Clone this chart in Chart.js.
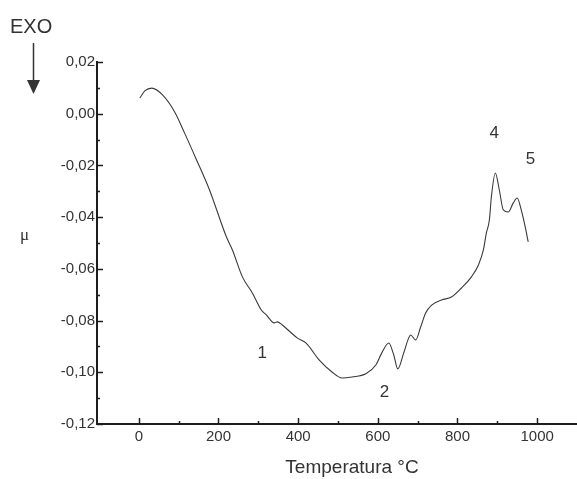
<!DOCTYPE html>
<html>
<head>
<meta charset="utf-8">
<script src="https://cdn.jsdelivr.net/npm/chart.js@4.4.0/dist/chart.umd.min.js"></script>
<style>
  html, body { margin: 0; padding: 0; background: #ffffff; }
  #wrap { position: relative; width: 577px; height: 479px; }
</style>
</head>
<body>
<div id="wrap"><canvas id="c" width="577" height="479"></canvas></div>
<script>
// Temperature (°C) and DTA signal
const temps = [2.5, 15, 32.5, 60, 90, 115, 145, 177.5, 220, 235, 260, 285, 307.5, 320, 340, 347.5, 360, 397.5, 420, 452.5, 485, 510, 535, 570, 595, 610, 627.5, 640, 650, 665, 677.5, 682.5, 695, 707.5, 720, 735, 760, 785, 810, 835, 852.5, 865, 872.5, 880, 885, 895, 905, 915, 927.5, 940, 950, 960, 970, 977.5];
const dta = [0.0061, 0.0088, 0.0099, 0.0072, 0.0007, -0.0075, -0.0179, -0.0295, -0.0477, -0.0527, -0.0631, -0.0693, -0.0759, -0.0778, -0.0809, -0.0805, -0.0817, -0.0867, -0.0887, -0.0952, -0.0999, -0.1022, -0.1018, -0.1006, -0.0972, -0.0925, -0.0887, -0.0933, -0.0987, -0.0925, -0.0867, -0.0856, -0.0875, -0.0825, -0.0771, -0.074, -0.072, -0.0709, -0.0674, -0.0631, -0.0585, -0.0527, -0.0461, -0.0411, -0.0322, -0.0229, -0.0295, -0.0372, -0.038, -0.0345, -0.0326, -0.0372, -0.0438, -0.0496];

// Axis ticks
const xTicks = [0, 200, 400, 600, 800, 1000];
const xMinorTicks = [100, 300, 500, 700, 900];
const yTicks = [0.02, 0.00, -0.02, -0.04, -0.06, -0.08, -0.10, -0.12];
const yTickLabels = ["0,02", "0,00", "-0,02", "-0,04", "-0,06", "-0,08", "-0,10", "-0,12"];
const yMinorTicks = [0.01, -0.01, -0.03, -0.05, -0.07, -0.09, -0.11];

// Peak labels: [temperature, value, text]
const peakLabels = [[310, -0.0925, "1"], [617, -0.1076, "2"], [892, -0.0075, "4"], [983, -0.0175, "5"]];

const textColor = '#333333';
const axisColor = '#1e1e1e';

const decorations = {
  id: 'decorations',
  afterDraw(chart) {
    const ctx = chart.ctx;
    const xs = chart.scales.x, ys = chart.scales.y;
    const x0 = xs.left, yb = ys.bottom;
    ctx.save();
    ctx.strokeStyle = axisColor;
    ctx.lineWidth = 1.5;
    // y ticks (inward, to the right)
    yTicks.forEach(v => {
      const py = Math.round(ys.getPixelForValue(v)) + 0.5;
      ctx.beginPath(); ctx.moveTo(x0, py); ctx.lineTo(x0 + 6, py); ctx.stroke();
    });
    yMinorTicks.forEach(v => {
      const py = Math.round(ys.getPixelForValue(v)) + 0.5;
      ctx.beginPath(); ctx.moveTo(x0, py); ctx.lineTo(x0 + 3, py); ctx.stroke();
    });
    // x ticks (inward, upward)
    xTicks.forEach(v => {
      const px = Math.round(xs.getPixelForValue(v)) + 0.5;
      ctx.beginPath(); ctx.moveTo(px, yb); ctx.lineTo(px, yb - 6); ctx.stroke();
    });
    xMinorTicks.forEach(v => {
      const px = Math.round(xs.getPixelForValue(v)) + 0.5;
      ctx.beginPath(); ctx.moveTo(px, yb); ctx.lineTo(px, yb - 3); ctx.stroke();
    });

    ctx.fillStyle = textColor;
    // EXO + arrow
    ctx.font = '20px "Liberation Sans", Arial, sans-serif';
    ctx.textAlign = 'left'; ctx.textBaseline = 'alphabetic';
    ctx.fillText('EXO', 10, 33);
    ctx.strokeStyle = textColor; ctx.lineWidth = 1.5;
    ctx.beginPath(); ctx.moveTo(33.5, 43); ctx.lineTo(33.5, 82); ctx.stroke();
    ctx.beginPath(); ctx.moveTo(27, 80); ctx.lineTo(40, 80); ctx.lineTo(33.5, 94); ctx.closePath(); ctx.fill();

    // mu
    ctx.font = '17px "Liberation Serif", "DejaVu Serif", serif';
    ctx.fillText('\u03bc', 20, 240);

    // peak labels
    ctx.font = '17px "Liberation Sans", Arial, sans-serif';
    ctx.textAlign = 'center'; ctx.textBaseline = 'middle';
    peakLabels.forEach(([t, v, s]) => {
      ctx.fillText(s, xs.getPixelForValue(t), ys.getPixelForValue(v));
    });

    // x-axis title
    ctx.font = '19px "Liberation Sans", Arial, sans-serif';
    ctx.textAlign = 'center'; ctx.textBaseline = 'middle';
    ctx.fillText('Temperatura \u00b0C', 352, 468);
    ctx.restore();
  }
};

new Chart(document.getElementById('c'), {
  type: 'line',
  data: {
    datasets: [{
      data: temps.map((t, i) => ({ x: t, y: dta[i] })),
      borderColor: '#3a3a3a',
      borderWidth: 1.1,
      pointRadius: 0,
      fill: false,
      cubicInterpolationMode: 'monotone'
    }]
  },
  options: {
    responsive: false,
    animation: false,
    devicePixelRatio: 1,
    layout: { padding: { top: 62, right: 0, left: 0, bottom: 0 } },
    plugins: { legend: { display: false }, tooltip: { enabled: false } },
    scales: {
      x: {
        type: 'linear',
        min: -105,
        max: 1100,
        afterBuildTicks: s => { s.ticks = xTicks.map(v => ({ value: v })); },
        afterFit: s => { s.height = 55; },
        grid: { display: false, drawTicks: false },
        border: { display: true, color: axisColor, width: 2 },
        ticks: {
          color: textColor,
          padding: 4,
          maxRotation: 0,
          autoSkip: false,
          font: { family: '"Liberation Sans", Arial, sans-serif', size: 15 },
          callback: v => String(v)
        }
      },
      y: {
        type: 'linear',
        min: -0.12,
        max: 0.02,
        afterBuildTicks: s => { s.ticks = yTicks.map(v => ({ value: v })); },
        afterFit: s => { s.width = 97; },
        grid: { display: false, drawTicks: false },
        border: { display: true, color: axisColor, width: 2 },
        ticks: {
          color: textColor,
          padding: 2,
          autoSkip: false,
          font: { family: '"Liberation Sans", Arial, sans-serif', size: 15 },
          callback: (v) => {
            const i = yTicks.findIndex(t => Math.abs(t - v) < 1e-9);
            return i >= 0 ? yTickLabels[i] : '';
          }
        }
      }
    }
  },
  plugins: [decorations]
});
</script>
</body>
</html>
